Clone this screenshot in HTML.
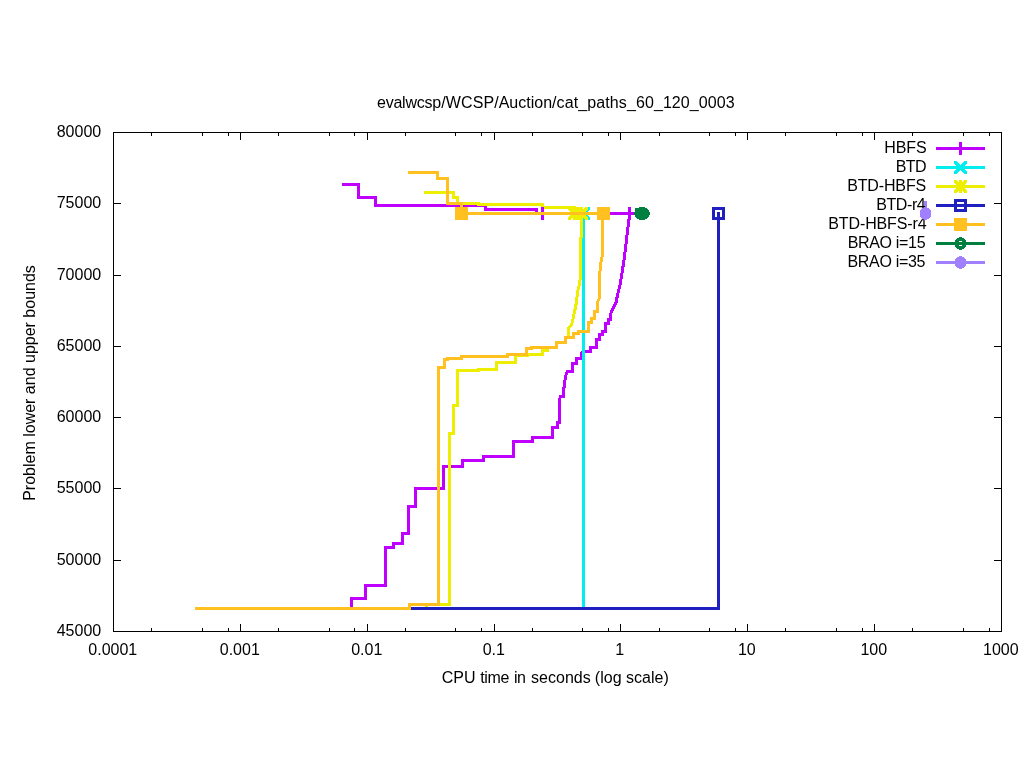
<!DOCTYPE html>
<html><head><meta charset="utf-8"><title>plot</title>
<style>
html,body{margin:0;padding:0;background:#fff;overflow:hidden}
svg{display:block}
.t{font-family:"Liberation Sans",sans-serif;font-size:16px;fill:#000}
</style></head><body>
<svg width="1024" height="768" viewBox="0 0 1024 768" shape-rendering="crispEdges">
<rect width="1024" height="768" fill="#fff"/>
<path d="M342,184.5H358.5V197.5H375.5V205.5H485.5V209.5H536.5V213.5H629.5" fill="none" stroke="#c000ff" stroke-width="3" stroke-linejoin="miter" stroke-linecap="butt" />
<path d="M351.5,608.5V598.5H365.5V585.5H385.5V547.5H393.5V543.5H402.5V533.5H408.5V506.5H415.5V488.5H443.5V466.5H462.5V460.5H483.5V456.5H513.5V441.5H532.5V437.5H552.5V427.5H557.5V422.5H559.5V400L560.5,396.5H563.5V390L564.5,385L565.5,376L567.5,371.5H572.5V363.5H576.5V358.5H581.5V353L585,351.5H590.5V347.5H596.5V339.5H599.5V334.5H602.5V331.5H605.5V323.5H608.5V319.5H610.5V314L613,308.5L616,302.5L617.5,295L620,285L622.5,270L624,260L625.6,247.5L627.5,231L629,219L629.5,213.5" fill="none" stroke="#c000ff" stroke-width="3" stroke-linejoin="miter" stroke-linecap="butt" />
<path d="M536.0,213.5H549.0M542.5,207.0V220.0" fill="none" stroke="#c000ff" stroke-width="3" stroke-linejoin="miter" stroke-linecap="butt" />
<path d="M623.0,213.5H636.0M629.5,207.0V220.0" fill="none" stroke="#c000ff" stroke-width="3" stroke-linejoin="miter" stroke-linecap="butt" />
<path d="M411,608.5H583.5V213.5" fill="none" stroke="#00eeee" stroke-width="3" stroke-linejoin="miter" stroke-linecap="butt" />
<path d="M577.0,207.0h3v3h-3zM577.0,217.0h3v3h-3zM578.0,208.0h3v3h-3zM578.0,216.0h3v3h-3zM579.0,209.0h3v3h-3zM579.0,215.0h3v3h-3zM580.0,210.0h3v3h-3zM580.0,214.0h3v3h-3zM581.0,211.0h3v3h-3zM581.0,213.0h3v3h-3zM582.0,212.0h3v3h-3zM582.0,212.0h3v3h-3zM583.0,213.0h3v3h-3zM583.0,211.0h3v3h-3zM584.0,214.0h3v3h-3zM584.0,210.0h3v3h-3zM585.0,215.0h3v3h-3zM585.0,209.0h3v3h-3zM586.0,216.0h3v3h-3zM586.0,208.0h3v3h-3zM587.0,217.0h3v3h-3zM587.0,207.0h3v3h-3z" fill="#00eeee"/>
<path d="M424,192.5H453.5V197.5H457.5V203.5H478.5V204.5H542.5V207M544,207.5H574.5V213.5" fill="none" stroke="#eeee00" stroke-width="3" stroke-linejoin="miter" stroke-linecap="butt" />
<path d="M411,608.5H426.5V604.5H449.5V433.5H453.5V405.5H457.5V370.5H478.5V369.5H496.5V362.5H515.5V355.5H527V354.5H542.5V350.5H547V347.5H556.5V342.5H565.5V337.5H568.5V328L571.5,325L573,319L574.5,312L576.5,302L577.5,292L579,286L580.5,277V240L581.5,235V213.5" fill="none" stroke="#eeee00" stroke-width="3" stroke-linejoin="miter" stroke-linecap="butt" />
<path d="M568.0,213.5H581.0M574.5,207.0V220.0" fill="none" stroke="#eeee00" stroke-width="3" stroke-linejoin="miter" stroke-linecap="butt" />
<path d="M568.0,207.0h3v3h-3zM568.0,217.0h3v3h-3zM569.0,208.0h3v3h-3zM569.0,216.0h3v3h-3zM570.0,209.0h3v3h-3zM570.0,215.0h3v3h-3zM571.0,210.0h3v3h-3zM571.0,214.0h3v3h-3zM572.0,211.0h3v3h-3zM572.0,213.0h3v3h-3zM573.0,212.0h3v3h-3zM573.0,212.0h3v3h-3zM574.0,213.0h3v3h-3zM574.0,211.0h3v3h-3zM575.0,214.0h3v3h-3zM575.0,210.0h3v3h-3zM576.0,215.0h3v3h-3zM576.0,209.0h3v3h-3zM577.0,216.0h3v3h-3zM577.0,208.0h3v3h-3zM578.0,217.0h3v3h-3zM578.0,207.0h3v3h-3z" fill="#eeee00"/>
<path d="M575.0,213.5H588.0M581.5,207.0V220.0" fill="none" stroke="#eeee00" stroke-width="3" stroke-linejoin="miter" stroke-linecap="butt" />
<path d="M575.0,207.0h3v3h-3zM575.0,217.0h3v3h-3zM576.0,208.0h3v3h-3zM576.0,216.0h3v3h-3zM577.0,209.0h3v3h-3zM577.0,215.0h3v3h-3zM578.0,210.0h3v3h-3zM578.0,214.0h3v3h-3zM579.0,211.0h3v3h-3zM579.0,213.0h3v3h-3zM580.0,212.0h3v3h-3zM580.0,212.0h3v3h-3zM581.0,213.0h3v3h-3zM581.0,211.0h3v3h-3zM582.0,214.0h3v3h-3zM582.0,210.0h3v3h-3zM583.0,215.0h3v3h-3zM583.0,209.0h3v3h-3zM584.0,216.0h3v3h-3zM584.0,208.0h3v3h-3zM585.0,217.0h3v3h-3zM585.0,207.0h3v3h-3z" fill="#eeee00"/>
<path d="M411,608.5H718.5V212" fill="none" stroke="#2020c0" stroke-width="3" stroke-linejoin="miter" stroke-linecap="butt" />
<rect x="713.5" y="208.5" width="10" height="10" fill="none" stroke="#2020c0" stroke-width="3"/>
<path d="M408,172.5H437.5V178.5H447.5V203.5H461.5V213.5H603.5" fill="none" stroke="#ffc020" stroke-width="3" stroke-linejoin="miter" stroke-linecap="butt" />
<path d="M195,608.5H409.5V604.5H438.5V367.5H444.5V359.5H447V358.5H461.5V356.5H507.5V354.5H526.5V348.5H531.5V347.5H556.5V342.5H565.5V337.5H573.5V333.5H578.5V331.5H588.5V322.5H591.5V318.5H594.5V311.5H597.5V302L599.5,298V275L601,262L602.5,255V213.5" fill="none" stroke="#ffc020" stroke-width="3" stroke-linejoin="miter" stroke-linecap="butt" />
<rect x="455.0" y="207.0" width="13.0" height="13.0" fill="#ffc020"/>
<rect x="597.0" y="207.0" width="13.0" height="13.0" fill="#ffc020"/>
<path d="M634,213.5H650M636.5,208V217" fill="none" stroke="#008040" stroke-width="3" stroke-linejoin="miter" stroke-linecap="butt" />
<path d="M639.0,207.0h3v1h-3zM637.0,208.0h7v1h-7zM636.0,209.0h9v1h-9zM635.0,210.0h11v1h-11zM635.0,211.0h11v1h-11zM635.0,212.0h11v1h-11zM635.0,213.0h11v1h-11zM635.0,214.0h11v1h-11zM635.0,215.0h11v1h-11zM635.0,216.0h11v1h-11zM636.0,217.0h9v1h-9zM637.0,218.0h7v1h-7zM639.0,219.0h3v1h-3z" fill="#008040"/>
<path d="M642.0,207.0h3v1h-3zM640.0,208.0h7v1h-7zM639.0,209.0h9v1h-9zM638.0,210.0h11v1h-11zM638.0,211.0h11v1h-11zM638.0,212.0h11v1h-11zM638.0,213.0h11v1h-11zM638.0,214.0h11v1h-11zM638.0,215.0h11v1h-11zM638.0,216.0h11v1h-11zM639.0,217.0h9v1h-9zM640.0,218.0h7v1h-7zM642.0,219.0h3v1h-3z" fill="#008040"/>
<path d="M925.5,201V213.5" fill="none" stroke="#a080ff" stroke-width="3" stroke-linejoin="miter" stroke-linecap="butt" />
<text x="926.6" y="153.0" text-anchor="end" textLength="42.4" lengthAdjust="spacing" class="t">HBFS</text>
<text x="926.6" y="172.0" text-anchor="end" textLength="30.8" lengthAdjust="spacing" class="t">BTD</text>
<text x="926.2" y="191.0" text-anchor="end" textLength="79.0" lengthAdjust="spacing" class="t">BTD-HBFS</text>
<text x="925.7" y="210.0" text-anchor="end" textLength="49.5" lengthAdjust="spacing" class="t">BTD-r4</text>
<text x="926.6" y="229.0" text-anchor="end" textLength="98.3" lengthAdjust="spacing" class="t">BTD-HBFS-r4</text>
<text x="925.6" y="248.0" text-anchor="end" textLength="77.9" lengthAdjust="spacing" class="t">BRAO i=15</text>
<text x="925.4" y="267.0" text-anchor="end" textLength="77.9" lengthAdjust="spacing" class="t">BRAO i=35</text>
<path d="M936,148.5H985" fill="none" stroke="#c000ff" stroke-width="3" stroke-linejoin="miter" stroke-linecap="butt" />
<path d="M954.0,148.5H967.0M960.5,142.0V155.0" fill="none" stroke="#c000ff" stroke-width="3" stroke-linejoin="miter" stroke-linecap="butt" />
<path d="M936,167.5H985" fill="none" stroke="#00eeee" stroke-width="3" stroke-linejoin="miter" stroke-linecap="butt" />
<path d="M954.0,161.0h3v3h-3zM954.0,171.0h3v3h-3zM955.0,162.0h3v3h-3zM955.0,170.0h3v3h-3zM956.0,163.0h3v3h-3zM956.0,169.0h3v3h-3zM957.0,164.0h3v3h-3zM957.0,168.0h3v3h-3zM958.0,165.0h3v3h-3zM958.0,167.0h3v3h-3zM959.0,166.0h3v3h-3zM959.0,166.0h3v3h-3zM960.0,167.0h3v3h-3zM960.0,165.0h3v3h-3zM961.0,168.0h3v3h-3zM961.0,164.0h3v3h-3zM962.0,169.0h3v3h-3zM962.0,163.0h3v3h-3zM963.0,170.0h3v3h-3zM963.0,162.0h3v3h-3zM964.0,171.0h3v3h-3zM964.0,161.0h3v3h-3z" fill="#00eeee"/>
<path d="M936,186.5H985" fill="none" stroke="#eeee00" stroke-width="3" stroke-linejoin="miter" stroke-linecap="butt" />
<path d="M954.0,186.5H967.0M960.5,180.0V193.0" fill="none" stroke="#eeee00" stroke-width="3" stroke-linejoin="miter" stroke-linecap="butt" />
<path d="M954.0,180.0h3v3h-3zM954.0,190.0h3v3h-3zM955.0,181.0h3v3h-3zM955.0,189.0h3v3h-3zM956.0,182.0h3v3h-3zM956.0,188.0h3v3h-3zM957.0,183.0h3v3h-3zM957.0,187.0h3v3h-3zM958.0,184.0h3v3h-3zM958.0,186.0h3v3h-3zM959.0,185.0h3v3h-3zM959.0,185.0h3v3h-3zM960.0,186.0h3v3h-3zM960.0,184.0h3v3h-3zM961.0,187.0h3v3h-3zM961.0,183.0h3v3h-3zM962.0,188.0h3v3h-3zM962.0,182.0h3v3h-3zM963.0,189.0h3v3h-3zM963.0,181.0h3v3h-3zM964.0,190.0h3v3h-3zM964.0,180.0h3v3h-3z" fill="#eeee00"/>
<path d="M936,205.5H985" fill="none" stroke="#2020c0" stroke-width="3" stroke-linejoin="miter" stroke-linecap="butt" />
<rect x="955.5" y="200.5" width="10" height="10" fill="none" stroke="#2020c0" stroke-width="3"/>
<path d="M936,224.5H985" fill="none" stroke="#ffc020" stroke-width="3" stroke-linejoin="miter" stroke-linecap="butt" />
<rect x="954.0" y="218.0" width="13.0" height="13.0" fill="#ffc020"/>
<path d="M936,243.5H985" fill="none" stroke="#008040" stroke-width="3" stroke-linejoin="miter" stroke-linecap="butt" />
<path d="M959.0,237.0h3v1h-3zM957.0,238.0h7v1h-7zM956.0,239.0h9v1h-9zM955.0,240.0h11v1h-11zM955.0,241.0h11v1h-11zM955.0,242.0h11v1h-11zM955.0,243.0h11v1h-11zM955.0,244.0h11v1h-11zM955.0,245.0h11v1h-11zM955.0,246.0h11v1h-11zM956.0,247.0h9v1h-9zM957.0,248.0h7v1h-7zM959.0,249.0h3v1h-3z" fill="#008040"/>
<path d="M959.0,241.0h3v1h-3zM959.0,245.0h3v1h-3z" fill="#fff"/>
<path d="M936,262.5H985" fill="none" stroke="#a080ff" stroke-width="3" stroke-linejoin="miter" stroke-linecap="butt" />
<path d="M959.0,256.0h3v1h-3zM957.0,257.0h7v1h-7zM956.0,258.0h9v1h-9zM955.0,259.0h11v1h-11zM955.0,260.0h11v1h-11zM955.0,261.0h11v1h-11zM955.0,262.0h11v1h-11zM955.0,263.0h11v1h-11zM955.0,264.0h11v1h-11zM955.0,265.0h11v1h-11zM956.0,266.0h9v1h-9zM957.0,267.0h7v1h-7zM959.0,268.0h3v1h-3z" fill="#a080ff"/>
<path d="M924.0,207.0h3v1h-3zM922.0,208.0h7v1h-7zM921.0,209.0h9v1h-9zM920.0,210.0h11v1h-11zM920.0,211.0h11v1h-11zM920.0,212.0h11v1h-11zM920.0,213.0h11v1h-11zM920.0,214.0h11v1h-11zM920.0,215.0h11v1h-11zM920.0,216.0h11v1h-11zM921.0,217.0h9v1h-9zM922.0,218.0h7v1h-7zM924.0,219.0h3v1h-3z" fill="#a080ff"/>
<rect x="113.5" y="132.5" width="888" height="499" fill="none" stroke="#000" stroke-width="1"/>
<path d="M113.5,632v-8M113.5,132v8M151.5,632v-4M151.5,132v4M202.5,632v-4M202.5,132v4M228.5,632v-4M228.5,132v4M240.5,632v-8M240.5,132v8M278.5,632v-4M278.5,132v4M329.5,632v-4M329.5,132v4M354.5,632v-4M354.5,132v4M367.5,632v-8M367.5,132v8M405.5,632v-4M405.5,132v4M455.5,632v-4M455.5,132v4M481.5,632v-4M481.5,132v4M494.5,632v-8M494.5,132v8M532.5,632v-4M532.5,132v4M582.5,632v-4M582.5,132v4M608.5,632v-4M608.5,132v4M620.5,632v-8M620.5,132v8M659.5,632v-4M659.5,132v4M709.5,632v-4M709.5,132v4M735.5,632v-4M735.5,132v4M747.5,632v-8M747.5,132v8M785.5,632v-4M785.5,132v4M836.5,632v-4M836.5,132v4M862.5,632v-4M862.5,132v4M874.5,632v-8M874.5,132v8M912.5,632v-4M912.5,132v4M963.5,632v-4M963.5,132v4M989.5,632v-4M989.5,132v4M1001.5,632v-8M1001.5,132v8M113,631.5h8M1002,631.5h-8M113,560.5h8M1002,560.5h-8M113,488.5h8M1002,488.5h-8M113,417.5h8M1002,417.5h-8M113,346.5h8M1002,346.5h-8M113,275.5h8M1002,275.5h-8M113,203.5h8M1002,203.5h-8M113,132.5h8M1002,132.5h-8" stroke="#000" stroke-width="1" fill="none"/>
<text x="112.8" y="655" text-anchor="middle" class="t">0.0001</text>
<text x="239.8" y="655" text-anchor="middle" class="t">0.001</text>
<text x="366.8" y="655" text-anchor="middle" class="t">0.01</text>
<text x="493.8" y="655" text-anchor="middle" class="t">0.1</text>
<text x="619.8" y="655" text-anchor="middle" class="t">1</text>
<text x="746.8" y="655" text-anchor="middle" class="t">10</text>
<text x="873.8" y="655" text-anchor="middle" class="t">100</text>
<text x="1000.8" y="655" text-anchor="middle" class="t">1000</text>
<text x="101.2" y="635.7" text-anchor="end" class="t">45000</text>
<text x="101.2" y="564.7" text-anchor="end" class="t">50000</text>
<text x="101.2" y="492.7" text-anchor="end" class="t">55000</text>
<text x="101.2" y="421.7" text-anchor="end" class="t">60000</text>
<text x="101.2" y="350.7" text-anchor="end" class="t">65000</text>
<text x="101.2" y="279.7" text-anchor="end" class="t">70000</text>
<text x="101.2" y="207.7" text-anchor="end" class="t">75000</text>
<text x="101.2" y="136.7" text-anchor="end" class="t">80000</text>
<text class="t"><tspan x="377.0" y="108" textLength="64.2" lengthAdjust="spacing">evalwcsp</tspan><tspan x="441.2" y="108" textLength="53.05" lengthAdjust="spacing">/WCSP</tspan><tspan x="494.25" y="108" textLength="57.8" lengthAdjust="spacing">/Auction</tspan><tspan x="552.07" y="108" textLength="182.7" lengthAdjust="spacing">/cat_paths_60_120_0003</tspan></text>
<text class="t"><tspan x="441.8" y="683" textLength="33.8" lengthAdjust="spacing">CPU</tspan> <tspan x="480.15" y="683" textLength="29.2" lengthAdjust="spacing">time</tspan> <tspan x="514.1" y="683" textLength="11.85" lengthAdjust="spacing">in</tspan> <tspan x="531.1" y="683" textLength="59.6" lengthAdjust="spacing">seconds</tspan> <tspan x="594.75" y="683" textLength="27.0" lengthAdjust="spacing">(log</tspan> <tspan x="625.9" y="683" textLength="42.9" lengthAdjust="spacing">scale)</tspan></text>
<text transform="translate(35,383) rotate(-90)" text-anchor="middle" class="t">Problem lower and upper bounds</text>
</svg>
</body></html>
